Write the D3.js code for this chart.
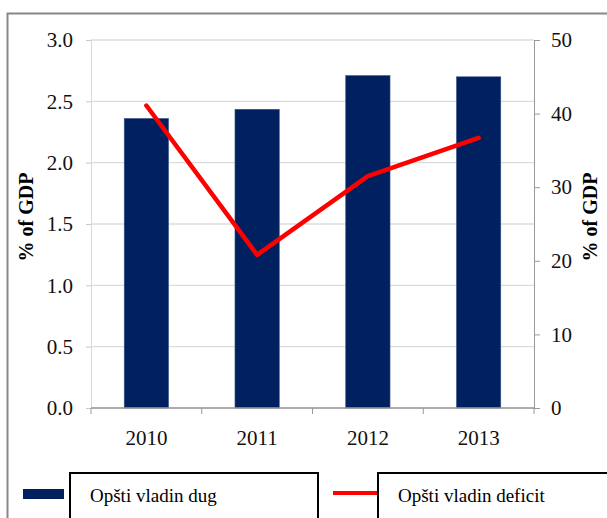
<!DOCTYPE html>
<html>
<head>
<meta charset="utf-8">
<script src="https://cdn.jsdelivr.net/npm/d3@7"></script>
<style>
  body { margin: 0; background: #fff; }
  svg text { font-family: "Liberation Serif", "Times New Roman", "DejaVu Serif", serif; }
</style>
</head>
<body>
<div id="chart"></div>
<script>
const years = ["2010", "2011", "2012", "2013"];
const dug = [2.36, 2.435, 2.71, 2.70];       // left axis, bars
const deficit = [41.1, 20.8, 31.5, 36.7];    // right axis, line
const leftTicks = [0, 0.5, 1.0, 1.5, 2.0, 2.5, 3.0];
const rightTicks = [0, 10, 20, 30, 40, 50];
const seriesNames = ["Opšti vladin dug", "Opšti vladin deficit"];
const axisTitle = "% of GDP";

const width = 607, height = 518;
const plotLeft = 91, plotRight = 534, plotTop = 40, plotBottom = 408;
const serif = "Liberation Serif, Times New Roman, serif";

const svg = d3.select("#chart").append("svg")
    .attr("width", width)
    .attr("height", height)
    .attr("font-family", serif);

// outer frame
svg.append("rect")
    .attr("x", 7.5).attr("y", 13.5)
    .attr("width", 640).attr("height", 560)
    .attr("fill", "#fff")
    .attr("stroke", "#888").attr("stroke-width", 2);

const x = d3.scaleBand().domain(years).range([plotLeft, plotRight]);
const yL = d3.scaleLinear().domain([0, 3]).range([plotBottom, plotTop]);
const yR = d3.scaleLinear().domain([0, 50]).range([plotBottom, plotTop]);

// gridlines
svg.append("g")
  .selectAll("line")
  .data(leftTicks)
  .enter()
  .append("line")
    .attr("x1", plotLeft).attr("x2", plotRight)
    .attr("y1", d => yL(d)).attr("y2", d => yL(d))
    .attr("stroke", "#dcdcdc").attr("stroke-width", 1.3);

// left axis
const gl = svg.append("g")
    .attr("transform", `translate(${plotLeft},0)`)
    .call(d3.axisLeft(yL).tickValues(leftTicks).tickFormat(d3.format(".1f")).tickSize(5).tickPadding(13))
    .attr("font-family", serif).attr("font-size", 21);
gl.select(".domain").attr("stroke", "#d9d9d9");
gl.selectAll(".tick line").attr("stroke", "#c8c8c8");
gl.selectAll("text").attr("fill", "#111");

// right axis
const gr = svg.append("g")
    .attr("transform", `translate(${plotRight},0)`)
    .call(d3.axisRight(yR).tickValues(rightTicks).tickSize(6).tickPadding(11))
    .attr("font-family", serif).attr("font-size", 21);
gr.select(".domain").attr("stroke", "#999");
gr.selectAll(".tick line").attr("stroke", "#999");
gr.selectAll("text").attr("fill", "#111");

// bars
svg.append("g")
  .selectAll("rect")
  .data(dug)
  .enter()
  .append("rect")
    .attr("x", (d, i) => x(years[i]) + x.bandwidth() * 0.3)
    .attr("width", x.bandwidth() * 0.4)
    .attr("y", d => yL(d))
    .attr("height", d => plotBottom - yL(d))
    .attr("fill", "#002060")
    .attr("stroke", "#3a5587").attr("stroke-width", 0.6);

// x axis
const tickPos = x.domain().map(d => x(d)).concat([plotRight]);
const gx = svg.append("g");
gx.append("line")
    .attr("x1", plotLeft).attr("x2", plotRight)
    .attr("y1", plotBottom).attr("y2", plotBottom)
    .attr("stroke", "#999").attr("stroke-width", 1.3);
gx.selectAll(".xt")
  .data(tickPos)
  .enter()
  .append("line")
    .attr("x1", d => d).attr("x2", d => d)
    .attr("y1", plotBottom).attr("y2", plotBottom + 6)
    .attr("stroke", "#999");
gx.selectAll("text")
  .data(years)
  .enter()
  .append("text")
    .attr("x", d => x(d) + x.bandwidth() / 2)
    .attr("y", 445)
    .attr("text-anchor", "middle")
    .attr("font-size", 21)
    .attr("fill", "#111")
    .text(d => d);

// line
const line = d3.line()
    .x((d, i) => x(years[i]) + x.bandwidth() / 2)
    .y(d => yR(d));
svg.append("path")
    .datum(deficit)
    .attr("d", line)
    .attr("fill", "none")
    .attr("stroke", "#ff0000")
    .attr("stroke-width", 4.5)
    .attr("stroke-linejoin", "round")
    .attr("stroke-linecap", "round");

// axis titles
svg.append("text")
    .attr("transform", "translate(33,217) rotate(-90)")
    .attr("text-anchor", "middle")
    .attr("font-size", 20).attr("font-weight", "bold")
    .text(axisTitle);
svg.append("text")
    .attr("transform", "translate(597,217) rotate(-90)")
    .attr("text-anchor", "middle")
    .attr("font-size", 20).attr("font-weight", "bold")
    .text(axisTitle);

// legend
svg.append("rect")
    .attr("x", 23).attr("y", 489).attr("width", 41).attr("height", 10)
    .attr("fill", "#002060");
svg.append("rect")
    .attr("x", 70).attr("y", 473).attr("width", 248).attr("height", 80)
    .attr("fill", "#fff").attr("stroke", "#000").attr("stroke-width", 2);
svg.append("text")
    .attr("x", 90).attr("y", 502)
    .attr("font-size", 19)
    .text(seriesNames[0]);

svg.append("line")
    .attr("x1", 333).attr("x2", 377).attr("y1", 493).attr("y2", 493)
    .attr("stroke", "#ff0000").attr("stroke-width", 4);
svg.append("rect")
    .attr("x", 378).attr("y", 473).attr("width", 260).attr("height", 80)
    .attr("fill", "#fff").attr("stroke", "#000").attr("stroke-width", 2);
svg.append("text")
    .attr("x", 398).attr("y", 502)
    .attr("font-size", 19)
    .text(seriesNames[1]);
</script>
</body>
</html>
